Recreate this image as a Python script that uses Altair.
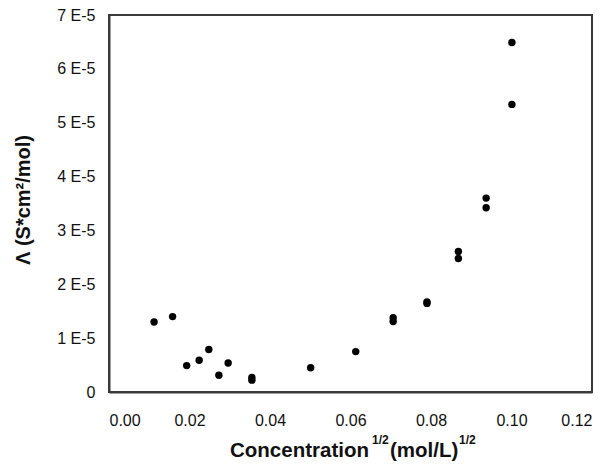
import altair as alt
import pandas as pd

# Data
conc_sqrt = [0.0112, 0.0158, 0.0193, 0.0224, 0.0248, 0.0273, 0.0296, 0.0355, 0.0355,
             0.0501, 0.0613, 0.0706, 0.0706, 0.0790, 0.0790, 0.0868, 0.0868,
             0.0937, 0.0937, 0.1001, 0.1001]
lambda_e5 = [1.30, 1.40, 0.49, 0.59, 0.79, 0.31, 0.54, 0.27, 0.22,
             0.45, 0.75, 1.38, 1.31, 1.67, 1.645, 2.61, 2.48,
             3.60, 3.42, 5.34, 6.49]
x_ticks = [0.0, 0.02, 0.04, 0.06, 0.08, 0.10, 0.12]
y_ticks = [0, 1e-5, 2e-5, 3e-5, 4e-5, 5e-5, 6e-5, 7e-5]
x_range = [0.0, 0.12]
y_range = [0.0, 7e-5]

df = pd.DataFrame({"x": conc_sqrt, "y": [v * 1e-5 for v in lambda_e5]})

FONT = "Liberation Sans, Arial, sans-serif"
W, H = 483, 377
TOP = 7
FRAME = "#3a3a3a"

xscale = alt.Scale(domain=x_range, nice=False)
yscale = alt.Scale(domain=y_range, nice=False)

xaxis = alt.Axis(values=x_ticks, format=".2f", grid=False, ticks=False,
                 domain=True, domainColor=FRAME, domainWidth=2,
                 labelFont=FONT, labelFontSize=16, labelColor="#111111",
                 labelPadding=20, title=None)
yaxis = alt.Axis(values=y_ticks, grid=False, ticks=False,
                 domain=True, domainColor=FRAME, domainWidth=2,
                 labelExpr="datum.value == 0 ? '0' : round(datum.value * 100000) + ' E-5'",
                 labelFont=FONT, labelFontSize=16, labelColor="#111111", labelPadding=14,
                 title="Λ (S*cm²/mol)", titleFont=FONT, titleFontSize=20,
                 titleFontWeight="bold", titleColor="#111111", titleAngle=270,
                 titleX=-80, titleY=H / 2 - 4, titleAlign="center",
                 titleBaseline="alphabetic")

points = alt.Chart(df).mark_circle(size=55, color="#000000", opacity=1).encode(
    x=alt.X("x:Q", scale=xscale, axis=xaxis),
    y=alt.Y("y:Q", scale=yscale, axis=yaxis),
)

def label(text, px, py, size, weight="bold"):
    return alt.Chart(pd.DataFrame({"t": [text]})).mark_text(
        align="left", baseline="alphabetic", font=FONT, fontSize=size,
        fontWeight=weight, color="#111111"
    ).encode(x=alt.value(px), y=alt.value(py), text="t:N")

base = 457 - 8 - TOP
xt1 = label("Concentration", 121, base, 20.5)
xt2 = label("1/2", 263, base - 13, 12)
xt3 = label("(mol/L)", 281, base, 20.5)
xt4 = label("1/2", 350, base - 13, 12)

chart = alt.layer(points, xt1, xt2, xt3, xt4).properties(
    width=W, height=H,
    autosize=alt.AutoSizeParams(type="none"),
    padding={"left": 101, "top": TOP, "right": 12, "bottom": 76},
).configure(background="white").configure_view(stroke=FRAME, strokeWidth=2, strokeOpacity=1)

chart.save("out.html", embed_options={"renderer": "svg", "actions": False})
